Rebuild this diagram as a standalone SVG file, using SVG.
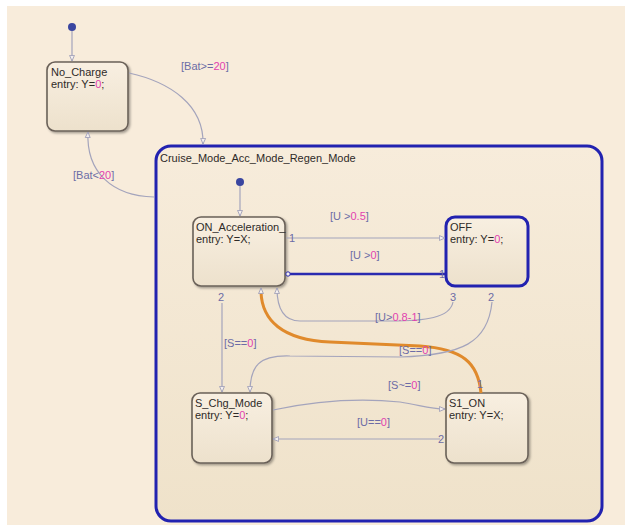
<svg xmlns="http://www.w3.org/2000/svg" width="625" height="525" viewBox="0 0 625 525">
<defs>
<linearGradient id="gBox" x1="0" y1="0" x2="0" y2="1"><stop offset="0" stop-color="#f8efe1"/><stop offset="1" stop-color="#ede1cc"/></linearGradient>
<linearGradient id="gCont" x1="0" y1="0" x2="0" y2="1"><stop offset="0" stop-color="#f7ecdb"/><stop offset="1" stop-color="#efe2ca"/></linearGradient>
<filter id="sh" x="-10%" y="-10%" width="130%" height="130%"><feDropShadow dx="1.5" dy="1.5" stdDeviation="1.2" flood-color="#000" flood-opacity="0.35"/></filter>
<marker id="ar" viewBox="0 0 10 10" refX="9" refY="5" markerWidth="7" markerHeight="7" orient="auto" markerUnits="userSpaceOnUse"><path d="M1,1.5 L9,5 L1,8.5 Z" fill="#f4efee" stroke="#9898b4" stroke-width="1.2"/></marker>
<marker id="arB" viewBox="0 0 10 10" refX="9" refY="5" markerWidth="7" markerHeight="7" orient="auto" markerUnits="userSpaceOnUse"><path d="M1,1.5 L9,5 L1,8.5 Z" fill="#f4efee" stroke="#2a2ab0" stroke-width="1.4"/></marker>
<marker id="arO" viewBox="0 0 10 10" refX="9" refY="5" markerWidth="7" markerHeight="7" orient="auto" markerUnits="userSpaceOnUse"><path d="M1,1.5 L9,5 L1,8.5 Z" fill="#f4efee" stroke="#9898b4" stroke-width="1.2"/></marker>
</defs>
<style>
text{font-family:"Liberation Sans",Arial,sans-serif;font-size:11px;fill:#2e2a28}
.lbl{fill:#6c6ca6}
.pk{fill:#e23fb0}
.num{fill:#6c6ca6;font-size:11px}
.st{fill:url(#gBox);stroke:#6a6158;stroke-width:1.6;filter:url(#sh)}
.tr{fill:none;stroke:#a4a4bc;stroke-width:1.2}
</style>
<rect x="0" y="0" width="625" height="525" fill="#ffffff"/>
<rect x="7" y="6" width="618" height="519" fill="#f8ecdb"/>

<g id="Cruise_Mode_Acc_Mode_Regen_Mode">
<rect x="156" y="146" width="446" height="375" rx="15" fill="url(#gCont)" stroke="#2222b0" stroke-width="3"/>
<text x="160" y="162">Cruise_Mode_Acc_Mode_Regen_Mode</text>
</g>

<g id="No_Charge">
<rect x="47" y="62" width="81" height="69" rx="8" class="st"/>
<text x="51" y="76">No_Charge</text>
<text x="51" y="88">entry: Y=<tspan class="pk">0</tspan>;</text>
</g>

<g id="ON_Acceleration_">
<rect x="193" y="217" width="92" height="69" rx="8" class="st"/>
<text x="196" y="231">ON_Acceleration_</text>
<text x="196" y="243">entry: Y=X;</text>
</g>

<g id="OFF">
<rect x="446" y="217" width="82" height="69" rx="9" fill="url(#gBox)" stroke="#2222b0" stroke-width="3"/>
<text x="450" y="231">OFF</text>
<text x="450" y="243">entry: Y=<tspan class="pk">0</tspan>;</text>
</g>

<g id="S_Chg_Mode">
<rect x="192" y="393" width="80" height="70" rx="8" class="st"/>
<text x="195" y="407">S_Chg_Mode</text>
<text x="195" y="419">entry: Y=<tspan class="pk">0</tspan>;</text>
</g>

<g id="S1_ON">
<rect x="446" y="393" width="82" height="70" rx="8" class="st"/>
<text x="449" y="407">S1_ON</text>
<text x="449" y="419">entry: Y=X;</text>
</g>

<g id="connectors">
<circle cx="72" cy="27" r="4" fill="#3a46a0"/>
<path class="tr" d="M72,31 L72,61" marker-end="url(#ar)"/>
<circle cx="240" cy="182" r="4" fill="#3a46a0"/>
<path class="tr" d="M240,186 L240,216" marker-end="url(#ar)"/>

<path class="tr" d="M129,73 C170,82 204,105 203,144" marker-end="url(#ar)"/>
<text x="181" y="70" class="lbl">[Bat&gt;=<tspan class="pk">20</tspan>]</text>

<path class="tr" d="M154,197 C112,196 86,172 88,132" marker-end="url(#ar)"/>
<text x="73" y="179" class="lbl">[Bat&lt;<tspan class="pk">20</tspan>]</text>

<path class="tr" d="M286,238 L445,238" marker-end="url(#ar)"/>
<text x="289" y="242" class="num">1</text>
<text x="330" y="220" class="lbl">[U &gt;<tspan class="pk">0.5</tspan>]</text>

<path d="M445,274 L289,274" fill="none" stroke="#2a2ab0" stroke-width="2.5"/>
<circle cx="288" cy="274" r="2.2" fill="#f4efee" stroke="#2a2ab0" stroke-width="1"/>
<text x="439" y="278" class="num">1</text>
<text x="350" y="259" class="lbl">[U &gt;<tspan class="pk">0</tspan>]</text>

<path class="tr" d="M453,302 C450,318 425,321 390,321 L300,321 C282,321 277,306 277,288" marker-end="url(#ar)"/>
<text x="450" y="301" class="num">3</text>
<text x="375" y="321" class="lbl">[U&gt;<tspan class="pk">0.8-1</tspan>]</text>

<path d="M481,393 C478,362 462,349 420,346 L330,342 C282,340 262,320 261,292" fill="none" stroke="#e08a2c" stroke-width="3"/>
<path class="tr" d="M261,294 L261,288" marker-end="url(#ar)"/>
<text x="477" y="388" class="num">1</text>

<path class="tr" d="M222,303 L222,392" marker-end="url(#ar)"/>
<text x="218" y="301" class="num">2</text>
<text x="224" y="347" class="lbl">[S==<tspan class="pk">0</tspan>]</text>

<path class="tr" d="M492,302 C488,343 462,355 400,357 L290,356 C259,355 250,366 250,392" marker-end="url(#ar)"/>
<text x="488" y="301" class="num">2</text>
<text x="399" y="354" class="lbl">[S==<tspan class="pk">0</tspan>]</text>

<path class="tr" d="M273,410 C320,400 360,398 400,402 C420,405 430,409 445,409" marker-end="url(#ar)"/>
<text x="388" y="389" class="lbl">[S~=<tspan class="pk">0</tspan>]</text>

<path class="tr" d="M440,439 L273,439" marker-end="url(#ar)"/>
<text x="438" y="443" class="num">2</text>
<text x="357" y="426" class="lbl">[U==<tspan class="pk">0</tspan>]</text>
</g>
</svg>
